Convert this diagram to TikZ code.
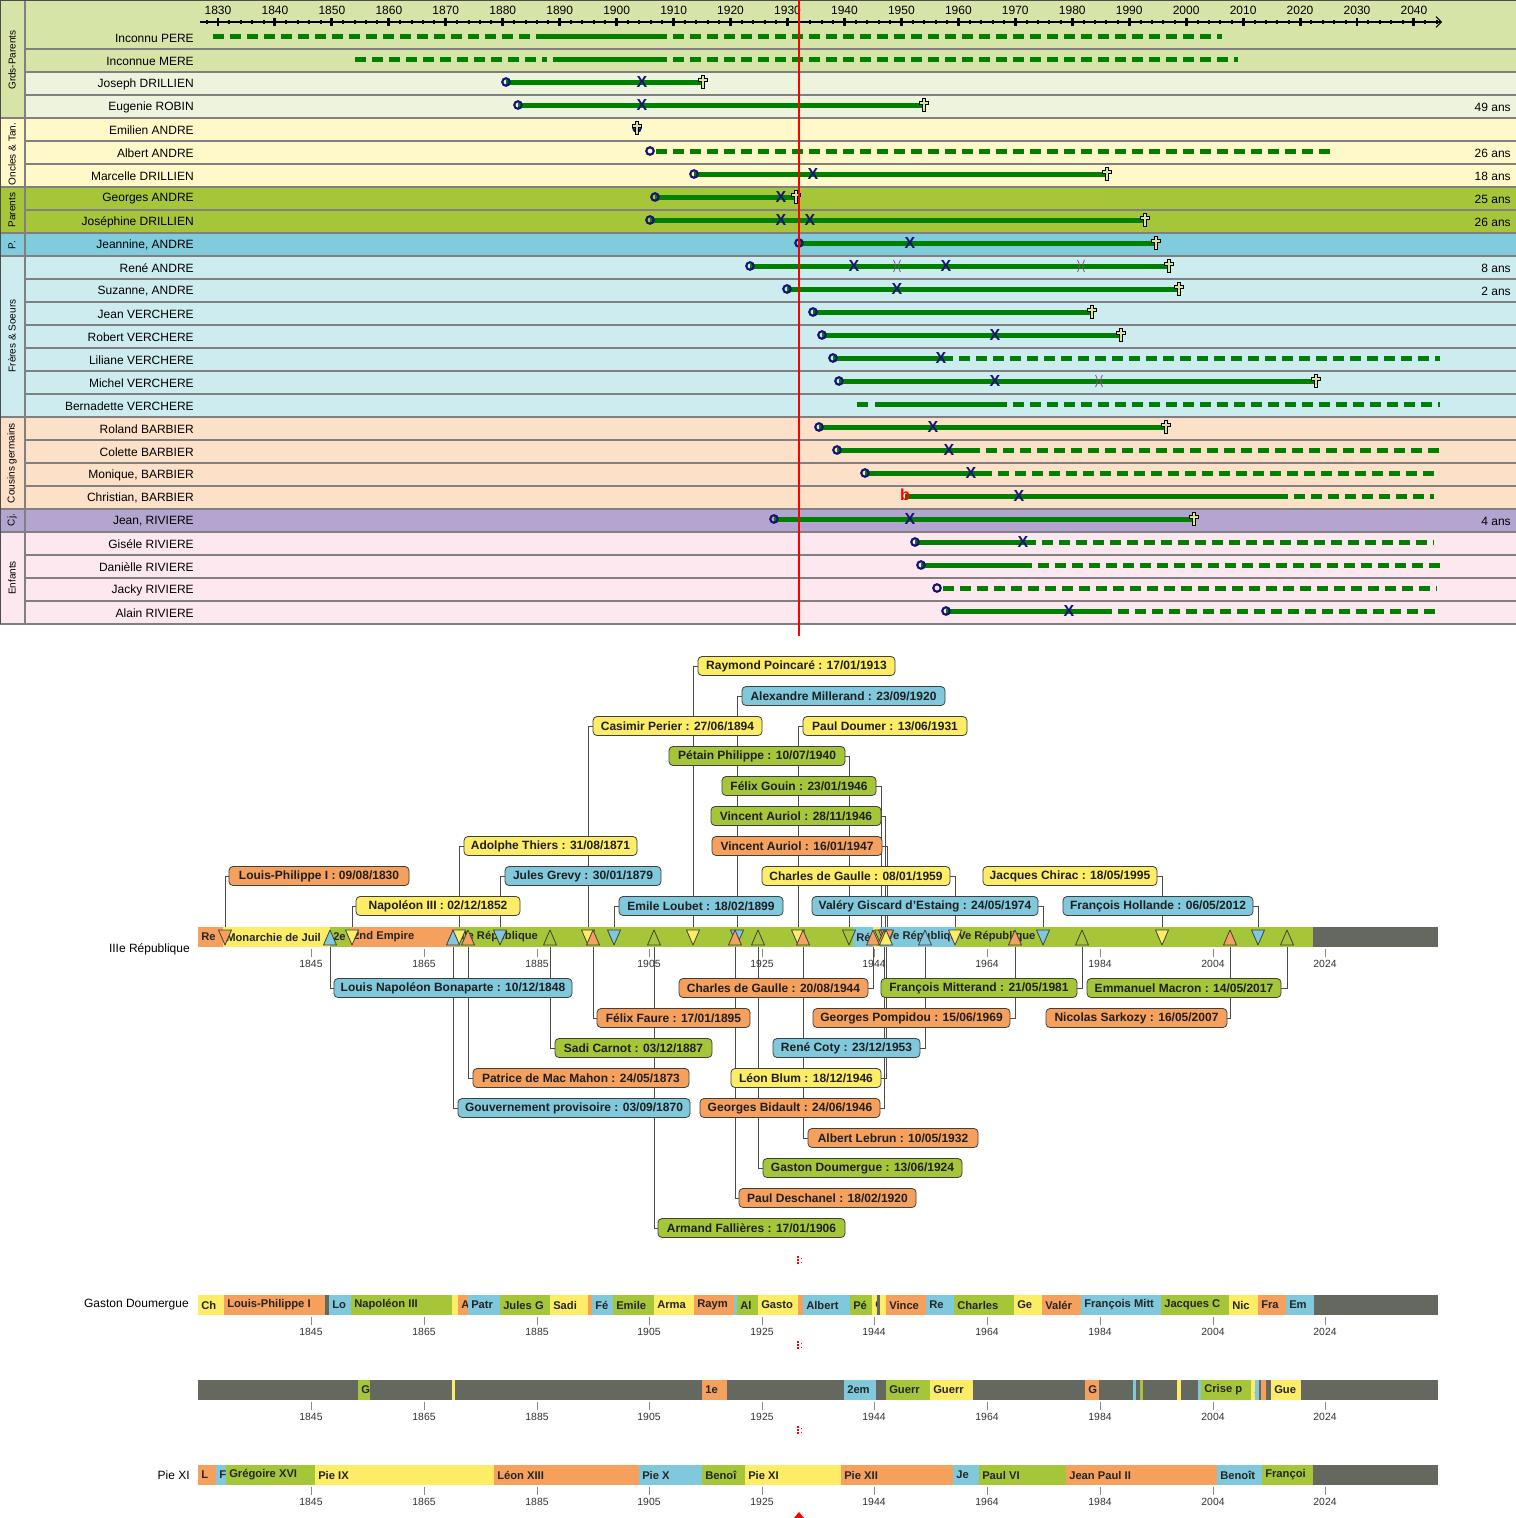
\documentclass[tikz,border=0pt]{standalone}
\usepackage{fontspec}
\setmainfont{Liberation Sans}
\usetikzlibrary{arrows.meta}
\pgfdeclarelayer{bgl}
\pgfdeclarelayer{connl}
\pgfdeclarelayer{frontl}
\pgfsetlayers{bgl,connl,main,frontl}
\definecolor{gpA}{HTML}{D7E4A8}
\definecolor{gpB}{HTML}{EEF3DE}
\definecolor{oncle}{HTML}{FFF8C8}
\definecolor{par}{HTML}{A6C63A}
\definecolor{ppc}{HTML}{80CCDD}
\definecolor{fsc}{HTML}{CDECF0}
\definecolor{cgc}{HTML}{FDE0C8}
\definecolor{cjc}{HTML}{B4A4D0}
\definecolor{enf}{HTML}{FDE8F0}
\definecolor{divg}{HTML}{808080}
\definecolor{lifeg}{HTML}{008000}
\definecolor{navyc}{HTML}{141478}
\definecolor{crossf}{HTML}{D8E4A0}
\definecolor{marrc}{HTML}{8A4A9A}
\definecolor{cO}{HTML}{F6A05E}
\definecolor{cY}{HTML}{FDEC66}
\definecolor{cB}{HTML}{80C8DC}
\definecolor{cG}{HTML}{A6C63A}
\definecolor{cK}{HTML}{65685E}
\tikzset{
  life/.style={draw=lifeg, line width=3.75pt},
  lifedash/.style={draw=lifeg, line width=3.75pt, dash pattern=on 8.25pt off 4.5pt},
  birth/.style={draw=navyc, line width=1.6pt},
  xmark/.style={text=navyc, font=\bfseries\fontsize{12}{12}\selectfont, inner sep=0pt},
  rowname/.style={anchor=east, font=\fontsize{9}{10}\selectfont, inner sep=0pt},
  grp/.style={rotate=90, font=\fontsize{7.5}{8}\selectfont, inner sep=0pt},
  divline/.style={draw=divg, line width=1.9pt},
  dcross/.pic={\filldraw[fill=crossf, draw=black, line width=0.6pt] (-1.6,-7) -- (1.6,-7) -- (1.6,-3.8) -- (4.8,-3.8) -- (4.8,-0.6) -- (1.6,-0.6) -- (1.6,6) -- (-1.6,6) -- (-1.6,-0.6) -- (-4.8,-0.6) -- (-4.8,-3.8) -- (-1.6,-3.8) -- cycle;},
  marr/.pic={\draw[marrc, line width=0.6pt] (-3.5,-6) .. controls (-1,-2) and (-1,2) .. (-3.5,6); \draw[marrc, line width=0.6pt] (3.5,-6) .. controls (1,-2) and (1,2) .. (3.5,6);},
  lbl/.style={draw=black!75, rounded corners=3pt, line width=0.6pt, font=\bfseries\fontsize{9}{10}\selectfont, text=black!88, inner sep=0pt, minimum height=14.25pt},
  conn/.style={draw=black!70, line width=0.6pt},
  segtxt/.style={anchor=west, font=\bfseries\fontsize{8.4}{9}\selectfont, inner sep=0pt, text=black!85},
  tickm/.style={draw=black!45, line width=0.6pt},
  ticklbl/.style={font=\fontsize{7.8}{9}\selectfont, inner sep=0pt, text=black!80},
  tri/.style={draw=black!75, line width=0.6pt, line join=round},
}
\newcommand\Ls[3]{\draw[life] (#1,#3) -- (#2,#3);}
\newcommand\Ld[3]{\draw[lifedash] (#1,#3) -- (#2,#3);}
\newcommand\Bo[2]{\draw[birth] (#1,#2) circle[radius=2.8pt];}
\newcommand\Xm[2]{\node[xmark] (X-#1-#2) at (#1,#2) {X};}
\newcommand\Dc[2]{\pic at (#1,#2) {dcross};}
\newcommand\Mr[2]{\pic at (#1,#2) {marr};}
\newcommand\Age[2]{\node[rowname] (age-#1) at (1511,#1) {#2};}
\newcommand\seg[5]{%
  \fill[#4] (#1,#3) rectangle (#2,#3+20);
  \begin{scope}
    \clip (#1,#3) rectangle (#2,#3+20);
    \node[segtxt] (s-#1-#3) at (#1+3,#3+10) {#5};
  \end{scope}}
\newcommand\ticks[1]{%
  \foreach \tx/\tl in {311/1845,424/1865,537/1885,649/1905,762/1925,874/1944,987/1964,1100/1984,1213/2004,1325/2024} {%
    \draw[tickm] (\tx,#1+22) -- (\tx,#1+30);
    \node[ticklbl] (tk-\tl-#1) at (\tx,#1+37) {\tl};}}
\newcommand\plab[9]{%
  \begin{pgfonlayer}{frontl}
    \node[lbl, fill=#5, minimum width={(#3-#2)*0.75pt}] (#1) at ({(#2+#3)/2},#4) {#9};
  \end{pgfonlayer}
  \ifx d#8
    \coordinate (#1-t) at (#7,929);
    \filldraw[tri, fill=#5] (#7-6.5,930) -- (#7+6.5,930) -- (#7,945) -- cycle;
  \else
    \coordinate (#1-t) at (#7,947);
    \filldraw[tri, fill=#5] (#7-6.5,945) -- (#7+6.5,945) -- (#7,930) -- cycle;
  \fi
  \begin{pgfonlayer}{connl}
    \draw[conn] (#1.#6) -| (#1-t);
  \end{pgfonlayer}}
\begin{document}
\begin{tikzpicture}[x=0.75pt,y=-0.75pt]
\useasboundingbox (0,0) rectangle (1516,1518);
\begin{pgfonlayer}{bgl}
\fill[white] (0,0) rectangle (1516,1518);
\end{pgfonlayer}
% ---------- top chart backgrounds
\fill[gpA] (0,0) rectangle (1516,72);
\fill[gpA] (0,72) rectangle (25,118);
\fill[gpB] (25,72) rectangle (1516,118);
\fill[oncle] (0,118) rectangle (1516,187);
\fill[par] (0,187) rectangle (1516,233);
\fill[ppc] (0,233) rectangle (1516,256);
\fill[fsc] (0,256) rectangle (1516,417);
\fill[cgc] (0,417) rectangle (1516,509);
\fill[cjc] (0,509) rectangle (1516,532);
\fill[enf] (0,532) rectangle (1516,624);
\foreach \k in {0,...,25} {\draw[divline] (25,49+23*\k) -- (1516,49+23*\k);}
\foreach \gy in {118,187,233,256,417,509,532,624} {\draw[divline] (0,\gy) -- (1516,\gy);}
\draw[divline, line width=1.5pt] (25,0) -- (25,624);
\draw[black!70, line width=1pt] (0.6,624) -- (0.6,0.6) -- (1516,0.6);
% group labels
\node[grp] (g1) at (12,60) {Grds-Parents};
\node[grp] (g2) at (12,154) {Oncles \& Tan.};
\node[grp] (g3) at (12,210) {Parents};
\node[grp] (g4) at (12,245) {P.};
\node[grp] (g5) at (12,336) {Frères \& Soeurs};
\node[grp] (g6) at (12,463) {Cousins germains};
\node[grp] (g7) at (12,520) {Cj.};
\node[grp] (g8) at (12,578) {Enfants};
% axis
\draw[line width=0.8pt, -{Straight Barb[length=4pt,width=8pt]}] (200,22) -- (1442,22);
\foreach \yr in {1828,1830,...,2044} {\fill ({218+5.695*(\yr-1830)-1},20) rectangle ++(2,4);}
\foreach \yr in {1830,1840,...,2040} {
  \draw[line width=2.2pt] ({218+5.695*(\yr-1830)},18) -- ({218+5.695*(\yr-1830)},26);
  \node[font=\fontsize{9}{10}\selectfont, inner sep=0pt] (yr-\yr) at ({218+5.695*(\yr-1830)},10) {\yr};}
% names
\node[rowname] (n0) at (194,38) {Inconnu PERE};
\node[rowname] (n1) at (194,61) {Inconnue MERE};
\node[rowname] (n2) at (194,84) {Joseph DRILLIEN};
\node[rowname] (n3) at (194,107) {Eugenie ROBIN};
\node[rowname] (n4) at (194,130) {Emilien ANDRE};
\node[rowname] (n5) at (194,153) {Albert ANDRE};
\node[rowname] (n6) at (194,176) {Marcelle DRILLIEN};
\node[rowname] (n7) at (194,199) {Georges ANDRE};
\node[rowname] (n8) at (194,222) {Joséphine DRILLIEN};
\node[rowname] (n9) at (194,245) {Jeannine, ANDRE};
\node[rowname] (n10) at (194,268) {René ANDRE};
\node[rowname] (n11) at (194,291) {Suzanne, ANDRE};
\node[rowname] (n12) at (194,314) {Jean VERCHERE};
\node[rowname] (n13) at (194,337) {Robert VERCHERE};
\node[rowname] (n14) at (194,360) {Liliane VERCHERE};
\node[rowname] (n15) at (194,383) {Michel VERCHERE};
\node[rowname] (n16) at (194,406) {Bernadette VERCHERE};
\node[rowname] (n17) at (194,429) {Roland BARBIER};
\node[rowname] (n18) at (194,452) {Colette BARBIER};
\node[rowname] (n19) at (194,475) {Monique, BARBIER};
\node[rowname] (n20) at (194,498) {Christian, BARBIER};
\node[rowname] (n21) at (194,521) {Jean, RIVIERE};
\node[rowname] (n22) at (194,544) {Giséle RIVIERE};
\node[rowname] (n23) at (194,567) {Danièlle RIVIERE};
\node[rowname] (n24) at (194,590) {Jacky RIVIERE};
\node[rowname] (n25) at (194,613) {Alain RIVIERE};
% ages
\Age{107}{49 ans}
\Age{153}{26 ans}
\Age{176}{18 ans}
\Age{199}{25 ans}
\Age{222}{26 ans}
\Age{268}{8 ans}
\Age{291}{2 ans}
\Age{521}{4 ans}
% lifelines
\Ld{213}{530}{36} \Ls{536}{667}{36} \Ld{673}{1222}{36}
\Ld{355}{547}{59} \Ls{553}{667}{59} \Ld{673}{1238}{59}
\Ls{506}{703}{82} \Bo{506}{82} \Xm{642}{82} \Dc{703}{82}
\Ls{518}{924}{105} \Bo{518}{105} \Xm{642}{105} \Dc{924}{105}
\Bo{637}{128} \Dc{637}{128}
\Ld{656}{1330}{151} \Bo{650}{151}
\Ls{694}{1107}{174} \Bo{694}{174} \Xm{813}{174} \Dc{1107}{174}
\Ls{655}{796}{197} \Bo{655}{197} \Xm{781}{197} \Dc{796}{197}
\Ls{650}{1145}{220} \Bo{650}{220} \Xm{781}{220} \Xm{810}{220} \Dc{1145}{220}
\Ls{799}{1156}{243} \Bo{799}{243} \Xm{910}{243} \Dc{1156}{243}
\Ls{750}{1169}{266} \Bo{750}{266} \Xm{854}{266} \Mr{897}{266} \Xm{946}{266} \Mr{1081}{266} \Dc{1169}{266}
\Ls{787}{1179}{289} \Bo{787}{289} \Xm{897}{289} \Dc{1179}{289}
\Ls{813}{1092}{312} \Bo{813}{312} \Dc{1092}{312}
\Ls{822}{1121}{335} \Bo{822}{335} \Xm{995}{335} \Dc{1121}{335}
\Ls{833}{953}{358} \Ld{959}{1440}{358} \Bo{833}{358} \Xm{941}{358}
\Ls{839}{1316}{381} \Bo{839}{381} \Xm{995}{381} \Mr{1099}{381} \Dc{1316}{381}
\Ld{857}{869}{404} \Ls{875}{1007}{404} \Ld{1013}{1440}{404}
\Ls{819}{1166}{427} \Bo{819}{427} \Xm{933}{427} \Dc{1166}{427}
\Ls{837}{980}{450} \Ld{986}{1440}{450} \Bo{837}{450} \Xm{949}{450}
\Ls{865}{992}{473} \Ld{998}{1440}{473} \Bo{865}{473} \Xm{971}{473}
\Ls{905}{1288}{496} \Ld{1294}{1434}{496} \node[text=red, font=\bfseries\fontsize{12}{12}\selectfont, inner sep=0pt] (bmark) at (905,495) {b}; \Xm{1019}{496}
\Ls{774}{1194}{519} \Bo{774}{519} \Xm{910}{519} \Dc{1194}{519}
\Ls{915}{1036}{542} \Ld{1042}{1434}{542} \Bo{915}{542} \Xm{1023}{542}
\Ls{921}{1032}{565} \Ld{1038}{1440}{565} \Bo{921}{565}
\Ld{943}{1437}{588} \Bo{937}{588}
\Ls{946}{1112}{611} \Ld{1118}{1438}{611} \Bo{946}{611} \Xm{1069}{611}
% red line
\draw[red, line width=1.5pt] (799,0) -- (799,636);
% ---------- IIIe Republique bar
\node[rowname] (lIII) at (190,949) {IIIe République};
\seg{198}{223}{927}{cO}{Re}
\seg{223}{330}{927}{cY}{Monarchie de Juil}
\seg{330}{350}{927}{cG}{2e}
\seg{350}{455}{927}{cO}{2nd Empire}
\seg{455}{853}{927}{cG}{IIIe République}
\seg{853}{873}{927}{cB}{Ré}
\seg{873}{880}{927}{cY}{}
\seg{880}{955}{927}{cB}{IVe République}
\seg{955}{1313}{927}{cG}{Ve République}
\seg{1313}{1438}{927}{cK}{}
\ticks{927}
% labels above
\plab{lp}{229}{409}{876}{cO}{west}{225}{d}{Louis-Philippe I : 09/08/1830}
\plab{nIII}{356}{520}{906}{cY}{west}{352}{d}{Napoléon III : 02/12/1852}
\plab{thiers}{464}{637}{846}{cY}{west}{459}{d}{Adolphe Thiers : 31/08/1871}
\plab{grevy}{505}{661}{876}{cB}{west}{500}{d}{Jules Grevy : 30/01/1879}
\plab{perier}{593}{762}{726}{cY}{west}{588}{d}{Casimir Perier : 27/06/1894}
\plab{loubet}{619}{783}{906}{cB}{west}{614}{d}{Emile Loubet : 18/02/1899}
\plab{poincare}{698}{895}{666}{cY}{west}{693}{d}{Raymond Poincaré : 17/01/1913}
\plab{millerand}{742}{945}{696}{cB}{west}{737}{d}{Alexandre Millerand : 23/09/1920}
\plab{doumer}{803}{967}{726}{cY}{west}{798}{d}{Paul Doumer : 13/06/1931}
\plab{petain}{669}{845}{756}{cG}{east}{849}{d}{Pétain Philippe : 10/07/1940}
\plab{gouin}{722}{876}{786}{cG}{east}{881}{d}{Félix Gouin : 23/01/1946}
\plab{auriolA}{711}{881}{816}{cG}{east}{885}{d}{Vincent Auriol : 28/11/1946}
\plab{auriolB}{712}{882}{846}{cO}{east}{887}{d}{Vincent Auriol : 16/01/1947}
\plab{gaulleB}{762}{950}{876}{cY}{east}{955}{d}{Charles de Gaulle : 08/01/1959}
\plab{vge}{812}{1038}{906}{cB}{east}{1043}{d}{Valéry Giscard d'Estaing : 24/05/1974}
\plab{chirac}{983}{1157}{876}{cY}{east}{1162}{d}{Jacques Chirac : 18/05/1995}
\plab{hollande}{1063}{1253}{906}{cB}{east}{1258}{d}{François Hollande : 06/05/2012}
% labels below
\plab{lnb}{334}{572}{988}{cB}{west}{330}{u}{Louis Napoléon Bonaparte : 10/12/1848}
\plab{faure}{597}{750}{1018}{cO}{west}{593}{u}{Félix Faure : 17/01/1895}
\plab{carnot}{555}{712}{1048}{cG}{west}{550}{u}{Sadi Carnot : 03/12/1887}
\plab{macmahon}{473}{689}{1078}{cO}{west}{468}{u}{Patrice de Mac Mahon : 24/05/1873}
\plab{gouvprov}{458}{690}{1108}{cB}{west}{453}{u}{Gouvernement provisoire : 03/09/1870}
\plab{fallieres}{658}{845}{1228}{cG}{west}{654}{u}{Armand Fallières : 17/01/1906}
\plab{deschanel}{739}{916}{1198}{cO}{west}{735}{u}{Paul Deschanel : 18/02/1920}
\plab{doumergue}{763}{962}{1168}{cG}{west}{758}{u}{Gaston Doumergue : 13/06/1924}
\plab{lebrun}{808}{978}{1138}{cO}{west}{803}{u}{Albert Lebrun : 10/05/1932}
\plab{bidault}{700}{880}{1108}{cO}{east}{884}{u}{Georges Bidault : 24/06/1946}
\plab{blum}{731}{881}{1078}{cY}{east}{886}{u}{Léon Blum : 18/12/1946}
\plab{coty}{773}{920}{1048}{cB}{east}{925}{u}{René Coty : 23/12/1953}
\plab{gaulleA}{679}{868}{988}{cO}{east}{873}{u}{Charles de Gaulle : 20/08/1944}
\plab{pompidou}{813}{1010}{1018}{cO}{east}{1015}{u}{Georges Pompidou : 15/06/1969}
\plab{mitterand}{881}{1077}{988}{cG}{east}{1082}{u}{François Mitterand : 21/05/1981}
\plab{macron}{1087}{1281}{988}{cG}{east}{1287}{u}{Emmanuel Macron : 14/05/2017}
\plab{sarkozy}{1046}{1227}{1018}{cO}{east}{1230}{u}{Nicolas Sarkozy : 16/05/2007}
% ---------- Gaston Doumergue bar
\node[rowname] (lGD) at (189,1305) {Gaston Doumergue};
\seg{198}{224}{1295}{cY}{Ch}
\seg{224}{325}{1295}{cO}{Louis-Philippe I}
\seg{325}{329}{1295}{cK}{}
\seg{329}{351}{1295}{cB}{Lo}
\seg{351}{452}{1295}{cG}{Napoléon III}
\seg{452}{458}{1295}{cY}{}
\seg{458}{468}{1295}{cO}{A}
\seg{468}{500}{1295}{cB}{Patr}
\seg{500}{550}{1295}{cG}{Jules G}
\seg{550}{588}{1295}{cY}{Sadi}
\seg{588}{592}{1295}{cO}{}
\seg{592}{613}{1295}{cB}{Fé}
\seg{613}{654}{1295}{cG}{Emile}
\seg{654}{694}{1295}{cY}{Arma}
\seg{694}{734}{1295}{cO}{Raym}
\seg{734}{737}{1295}{cB}{}
\seg{737}{758}{1295}{cG}{Al}
\seg{758}{798}{1295}{cY}{Gasto}
\seg{798}{803}{1295}{cO}{}
\seg{803}{850}{1295}{cB}{Albert}
\seg{850}{872}{1295}{cG}{Pé}
\seg{872}{877}{1295}{cY}{C}
\seg{877}{880}{1295}{cK}{}
\seg{880}{886}{1295}{cY}{}
\seg{886}{926}{1295}{cO}{Vince}
\seg{926}{954}{1295}{cB}{Re}
\seg{954}{1014}{1295}{cG}{Charles}
\seg{1014}{1042}{1295}{cY}{Ge}
\seg{1042}{1081}{1295}{cO}{Valér}
\seg{1081}{1161}{1295}{cB}{François Mitt}
\seg{1161}{1229}{1295}{cG}{Jacques C}
\seg{1229}{1258}{1295}{cY}{Nic}
\seg{1258}{1286}{1295}{cO}{Fra}
\seg{1286}{1314}{1295}{cB}{Em}
\seg{1314}{1438}{1295}{cK}{}
\ticks{1295}
% ---------- events bar
\seg{198}{1438}{1380}{cK}{}
\seg{358}{370}{1380}{cG}{G}
\seg{452}{455}{1380}{cY}{}
\seg{702}{727}{1380}{cO}{1e}
\seg{844}{876}{1380}{cB}{2em}
\seg{886}{930}{1380}{cG}{Guerr}
\seg{930}{973}{1380}{cY}{Guerr}
\seg{1085}{1099}{1380}{cO}{G}
\seg{1133}{1136}{1380}{cB}{}
\seg{1140}{1143}{1380}{cG}{}
\seg{1177}{1181}{1380}{cY}{}
\seg{1198}{1201}{1380}{cB}{}
\seg{1201}{1251}{1380}{cG}{Crise p}
\seg{1251}{1255}{1380}{cY}{A}
\seg{1255}{1259}{1380}{cB}{}
\seg{1261}{1266}{1380}{cO}{}
\seg{1271}{1301}{1380}{cY}{Gue}
\ticks{1380}
% ---------- Popes bar
\node[rowname] (lPie) at (190,1475) {Pie XI};
\seg{198}{216}{1465}{cO}{L}
\seg{216}{226}{1465}{cB}{F}
\seg{226}{315}{1465}{cG}{Grégoire XVI}
\seg{315}{494}{1465}{cY}{Pie IX}
\seg{494}{639}{1465}{cO}{Léon XIII}
\seg{639}{702}{1465}{cB}{Pie X}
\seg{702}{745}{1465}{cG}{Benoî}
\seg{745}{841}{1465}{cY}{Pie XI}
\seg{841}{953}{1465}{cO}{Pie XII}
\seg{953}{979}{1465}{cB}{Je}
\seg{979}{1066}{1465}{cG}{Paul VI}
\seg{1066}{1217}{1465}{cO}{Jean Paul II}
\seg{1217}{1262}{1465}{cB}{Benoît}
\seg{1262}{1313}{1465}{cG}{Françoi}
\seg{1313}{1438}{1465}{cK}{}
\ticks{1465}
% red markers
\foreach \ry in {1260,1345,1430} {\draw[red, line width=1pt, dash pattern=on 1.5pt off 0.8pt] (798,\ry-4) -- (798,\ry+4); \fill[red] (800.5,\ry-2) rectangle ++(1.2,1.2); \fill[red] (800.5,\ry+1.5) rectangle ++(1.2,1.2);}
\fill[red] (794,1518) -- (804,1518) -- (799,1512) -- cycle;
\end{tikzpicture}
\end{document}
